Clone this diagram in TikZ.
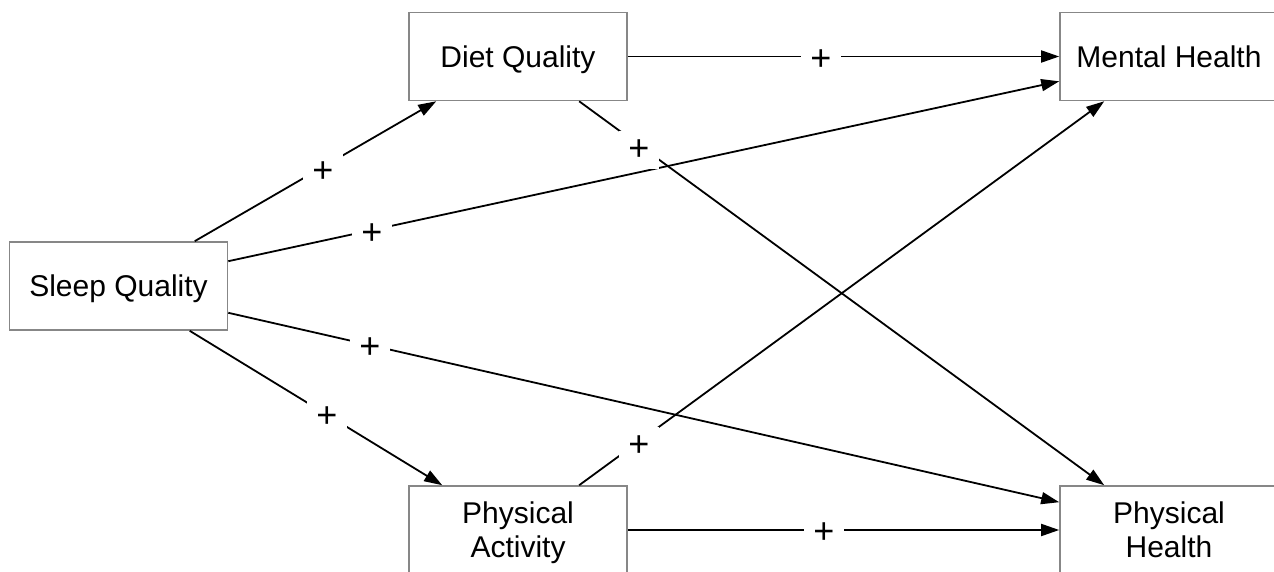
\documentclass[tikz,border=0pt]{standalone}
\usepackage{fontspec}
\setmainfont{Liberation Sans}
\usetikzlibrary{arrows.meta,calc}
\begin{document}
\begin{tikzpicture}[x=1pt,y=-1pt,
  box/.style={draw=black!47,line width=1.6pt,fill=white,minimum width=218pt,minimum height=88pt,
    inner sep=0pt,align=center,text depth=0pt,font=\fontsize{30}{34}\selectfont},
  conn/.style={line width=1.8pt,-{Triangle[length=18pt,width=12pt]}},
  lbl/.style={fill=white,inner sep=9pt,font=\fontsize{36}{40}\selectfont}]
\useasboundingbox (0,0) rectangle (1274,572);
\node[box] (sleep) at (118.5,286) {Sleep Quality};
\node[box] (diet) at (518,56.5) {Diet Quality};
\node[box] (act) at (518,530) {Physical\\Activity};
\node[box] (ment) at (1169,56.5) {Mental Health};
\node[box] (phys) at (1169,530) {Physical\\Health};
% connectors
\draw[conn] ($(sleep.north west)+(186,0)$) -- ($(diet.south west)+(28,0)$);
\draw[conn] ($(sleep.north east)+(0,20)$) -- ($(ment.south west)+(0,-20)$);
\draw[conn] ($(sleep.south east)+(0,-18)$) -- ($(phys.north west)+(0,17)$);
\draw[conn] ($(sleep.south west)+(181,0)$) -- ($(act.north west)+(34,0)$);
\draw[conn] (diet.east) -- (ment.west);
\draw[conn] ($(diet.south west)+(171,0)$) -- ($(phys.north west)+(45,0)$);
\draw[conn] ($(act.north west)+(171,0)$) -- ($(ment.south west)+(45,0)$);
\draw[conn] (act.east) -- (phys.west);
% labels
\node[lbl] (l1) at (323,172) {+};
\node[lbl] (l2) at (372,234) {+};
\node[lbl] (l3) at (370,348) {+};
\node[lbl] (l4) at (327,417) {+};
\node[lbl] (l5) at (821,60) {+};
\node[lbl] (l6) at (639,150) {+};
\node[lbl] (l7) at (639,446) {+};
\node[lbl] (l8) at (824,533) {+};
\end{tikzpicture}
\end{document}
